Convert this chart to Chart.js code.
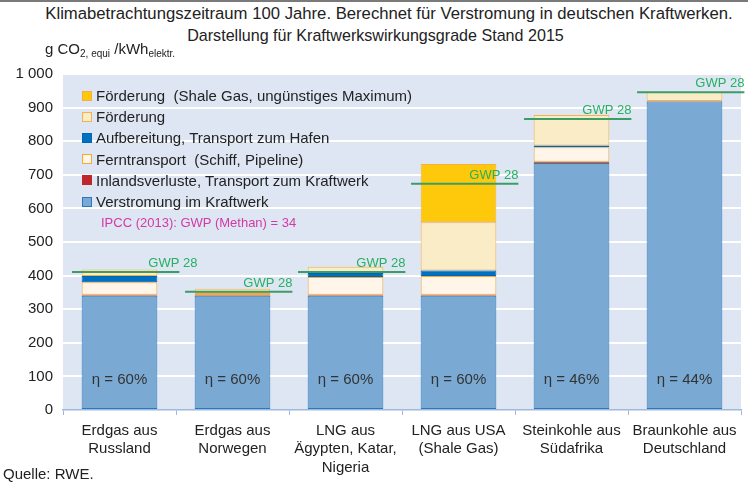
<!DOCTYPE html>
<html>
<head>
<meta charset="utf-8">
<script src="https://cdn.jsdelivr.net/npm/chart.js@4"></script>
<style>
  html, body { margin:0; padding:0; background:#fff; }
  body { width:748px; height:483px; position:relative; overflow:hidden; font-family:"Liberation Sans", Arial, sans-serif; color:#222; }
  #topline { position:absolute; left:0; top:0; width:748px; height:2px; background:#7a7a7a; }
  .t { position:absolute; left:0; text-align:center; line-height:20px; color:#222; white-space:nowrap; }
  #t1 { top:4px; width:778px; font-size:16.7px; }
  #t2 { top:24.5px; width:751px; font-size:16.1px; }
  #unit { position:absolute; left:45px; top:40px; font-size:15px; color:#222; white-space:nowrap; }
  #unit sub { font-size:10px; vertical-align:-3px; }
  #source { position:absolute; left:3px; top:465px; font-size:15px; color:#222; }
  #legend { position:absolute; left:82px; top:85px; font-size:15px; color:#222; }
  .li { height:21.2px; display:flex; align-items:center; white-space:pre; }
  .lb { width:8px; height:8px; border:1px solid; margin-right:4px; flex:none; }
  #ipcc { margin-left:19px; font-size:13px; color:#d23aa6; height:21px; display:flex; align-items:center; }
  canvas { position:absolute; left:0; top:0; }
</style>
</head>
<body>
<div id="topline"></div>
<div class="t" id="t1">Klimabetrachtungszeitraum 100 Jahre. Berechnet für Verstromung in deutschen Kraftwerken.</div>
<div class="t" id="t2">Darstellung für Kraftwerkswirkungsgrade Stand 2015</div>
<canvas id="c" width="748" height="483"></canvas>
<div id="unit">g CO<sub>2, equi</sub> /kWh<sub>elektr.</sub></div>
<div id="legend"></div>
<div id="source">Quelle: RWE.</div>
<script>
const categories = [
  ['Erdgas aus', 'Russland'],
  ['Erdgas aus', 'Norwegen'],
  ['LNG aus', 'Ägypten, Katar,', 'Nigeria'],
  ['LNG aus USA', '(Shale Gas)'],
  ['Steinkohle aus', 'Südafrika'],
  ['Braunkohle aus', 'Deutschland']
];
const verstromung      = [340, 340, 340, 340, 735, 918];
const inlandsverluste  = [3, 2, 3, 3, 4, 2];
const ferntransport    = [37, 6, 53, 56, 43, null];
const aufbereitung     = [19, 2, 12, 16, 5, null];
const foerderung       = [19, 11, 18, 144, 91, 27];
const shaleGasMaximum  = [null, null, null, 173, null, null];
const gwp28            = [411, 352, 411, 673, 866, 946];
const gwpLabel         = 'GWP 28';
const etaValues        = ['60', '60', '60', '60', '46', '44'];
const yTicks           = [0, 100, 200, 300, 400, 500, 600, 700, 800, 900, 1000];
const ipccNote         = 'IPCC (2013): GWP (Methan) = 34';

const FONT = '"Liberation Sans", Arial, sans-serif';

const datasets = [
  { label: 'Verstromung im Kraftwerk', data: verstromung, backgroundColor: '#7aaad4', borderColor: '#2a78bd' },
  { label: 'Inlandsverluste, Transport zum Kraftwerk', data: inlandsverluste, backgroundColor: '#c0272d', borderColor: '#e0602a' },
  { label: 'Ferntransport  (Schiff, Pipeline)', data: ferntransport, backgroundColor: '#fff6e9', borderColor: '#f5a93a' },
  { label: 'Aufbereitung, Transport zum Hafen', data: aufbereitung, backgroundColor: '#0070c0', borderColor: '#0066b3' },
  { label: 'Förderung', data: foerderung, backgroundColor: '#f9ecc6', borderColor: '#f6b24a' },
  { label: 'Förderung  (Shale Gas, ungünstiges Maximum)', data: shaleGasMaximum, backgroundColor: '#ffc90b', borderColor: '#f5b040' }
].map(d => Object.assign(d, { borderWidth: 1, borderSkipped: false, stack: 's', barPercentage: 0.67, categoryPercentage: 1 }));

// HTML legend built from datasets (reverse order)
const legendEl = document.getElementById('legend');
datasets.slice().reverse().forEach(d => {
  const row = document.createElement('div');
  row.className = 'li';
  const b = document.createElement('span');
  b.className = 'lb';
  b.style.background = d.backgroundColor;
  b.style.borderColor = d.label.startsWith('Inlands') ? d.backgroundColor : d.borderColor;
  row.appendChild(b);
  row.appendChild(document.createTextNode(d.label));
  legendEl.appendChild(row);
});
const ip = document.createElement('div');
ip.id = 'ipcc';
ip.textContent = ipccNote;
legendEl.appendChild(ip);

const bgPlugin = {
  id: 'bg',
  beforeDraw(chart) {
    const { ctx, chartArea: a } = chart;
    ctx.save();
    ctx.fillStyle = '#dfe6f3';
    ctx.fillRect(a.left, a.top, a.right - a.left, a.bottom - a.top);
    ctx.restore();
  }
};

const overlayPlugin = {
  id: 'overlay',
  afterDatasetsDraw(chart) {
    const { ctx, scales: { x, y }, chartArea: a } = chart;
    const w = x.getPixelForValue(1) - x.getPixelForValue(0);
    ctx.save();
    // eta labels
    ctx.fillStyle = '#333';
    ctx.font = '15px ' + FONT;
    ctx.textAlign = 'center';
    ctx.textBaseline = 'middle';
    etaValues.forEach((v, i) => {
      ctx.fillText('η = ' + v + '%', x.getPixelForValue(i), a.bottom - 30);
    });
    // GWP 28 lines
    gwp28.forEach((v, i) => {
      const cx = x.getPixelForValue(i);
      const yy = y.getPixelForValue(v);
      const x0 = cx - 0.42 * w, x1 = cx + 0.53 * w;
      ctx.strokeStyle = '#3c9d64';
      ctx.lineWidth = 2;
      ctx.beginPath();
      ctx.moveTo(x0, yy);
      ctx.lineTo(x1, yy);
      ctx.stroke();
      ctx.fillStyle = '#25b062';
      ctx.font = '13px ' + FONT;
      ctx.textAlign = 'right';
      ctx.textBaseline = 'alphabetic';
      ctx.fillText(gwpLabel, x1 + (i === 0 ? 18 : 0), yy - 5);
    });
    ctx.restore();
  }
};

new Chart(document.getElementById('c'), {
  type: 'bar',
  data: { labels: categories, datasets },
  options: {
    responsive: false,
    animation: false,
    devicePixelRatio: 1,
    layout: { padding: { top: 74, right: 7, bottom: 0, left: 0 } },
    plugins: { legend: { display: false }, tooltip: { enabled: false }, title: { display: false } },
    scales: {
      x: {
        stacked: true,
        afterFit(s) { s.height = 73; },
        grid: { offset: true, drawOnChartArea: false, drawTicks: true, tickLength: 5, color: '#9db9dd', lineWidth: 1 },
        border: { display: true, color: '#9db9dd', width: 1.5 },
        ticks: { color: '#222', font: { family: FONT, size: 15, lineHeight: 1.25 }, padding: 6, maxRotation: 0, autoSkip: false }
      },
      y: {
        stacked: true,
        min: 0, max: 1000,
        afterFit(s) { s.width = 63; },
        afterBuildTicks(s) { s.ticks = yTicks.map(v => ({ value: v })); },
        grid: { drawTicks: false, lineWidth: 2, color: c => (c.tick && c.tick.value === 0) ? 'rgba(0,0,0,0)' : '#ffffff' },
        border: { display: false },
        ticks: { color: '#222', font: { family: FONT, size: 15 }, padding: 10,
          callback: v => v >= 1000 ? String(v).replace(/(\d)(\d{3})$/, '$1 $2') : String(v) }
      }
    }
  },
  plugins: [bgPlugin, overlayPlugin]
});
</script>
</body>
</html>
